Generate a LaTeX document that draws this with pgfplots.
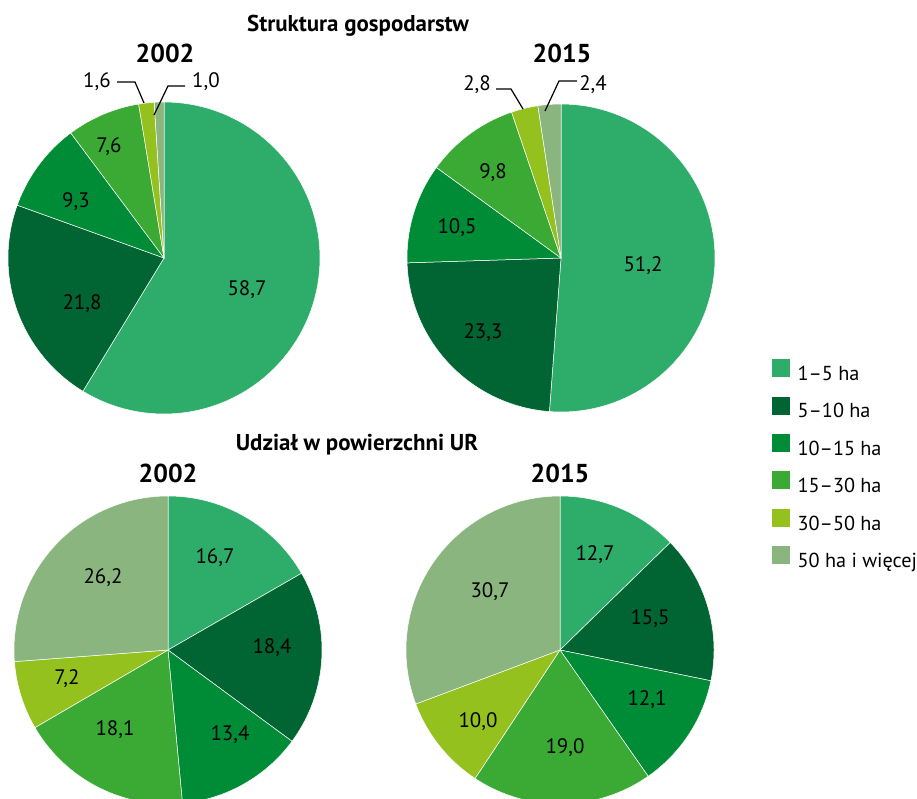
\documentclass[border=0pt]{standalone}
\usepackage{pgfplots}
\pgfplotsset{compat=1.18}
\usepackage{fontspec}
\setmainfont{PT Sans}
\definecolor{cA}{RGB}{46,173,106}
\definecolor{cB}{RGB}{0,101,50}
\definecolor{cC}{RGB}{0,140,55}
\definecolor{cD}{RGB}{59,170,53}
\definecolor{cE}{RGB}{149,193,31}
\definecolor{cF}{RGB}{138,181,126}
% pie: #1 cx, #2 cy, #3 radius, #4 list value/colour (clockwise from 12 o'clock)
\newcommand\pie[4]{%
  \xdef\cum{0}%
  \foreach \v/\c in {#4} {%
    \pgfmathsetmacro\a{3.6*\cum}%
    \pgfmathsetmacro\b{3.6*(\cum+\v)}%
    \edef\tmp{\noexpand\addplot[fill=\c, draw=white, line width=0.5bp, domain=\a:\b, samples=90, forget plot]
      ({#1+#3*sin(x)},{#2-#3*cos(x)}) -- (axis cs:#1,#2) -- cycle;}%
    \tmp
    \pgfmathsetmacro\n{\cum+\v}%
    \xdef\cum{\n}%
  }%
}
\newcommand\lab[3]{\node[font=\fontsize{21}{24}\selectfont, inner sep=0pt] at (axis cs:#1,#2) {#3};}
\begin{document}
\begin{tikzpicture}
\begin{axis}[
  scale only axis, width=917bp, height=799bp,
  xmin=0, xmax=917, ymin=0, ymax=799, y dir=reverse,
  axis lines=none, clip=true, clip bounding box=upper bound,
  legend style={at={(axis cs:772,359)}, anchor=north west, draw=none, fill=none,
    font=\fontsize{20.3}{24}\selectfont, row sep=12.2bp, column sep=8bp, inner sep=0pt,
    nodes={inner sep=0pt, text height=15bp, text depth=4bp}},
  legend cell align=left,
]
\addlegendimage{legend image code/.code={\fill[cA] (0bp,-1.5bp) rectangle (17bp,15.5bp);}}
\addlegendimage{legend image code/.code={\fill[cB] (0bp,-1.5bp) rectangle (17bp,15.5bp);}}
\addlegendimage{legend image code/.code={\fill[cC] (0bp,-1.5bp) rectangle (17bp,15.5bp);}}
\addlegendimage{legend image code/.code={\fill[cD] (0bp,-1.5bp) rectangle (17bp,15.5bp);}}
\addlegendimage{legend image code/.code={\fill[cE] (0bp,-1.5bp) rectangle (17bp,15.5bp);}}
\addlegendimage{legend image code/.code={\fill[cF] (0bp,-1.5bp) rectangle (17bp,15.5bp);}}
\legend{1–5 ha, 5–10 ha, 10–15 ha, 15–30 ha, 30–50 ha, 50 ha i więcej}

% Struktura gospodarstw
\pie{164}{258}{156}{58.7/cA, 21.8/cB, 9.3/cC, 7.6/cD, 1.6/cE, 1.0/cF}
\pie{561}{258}{154}{51.2/cA, 23.3/cB, 10.5/cC, 9.8/cD, 2.8/cE, 2.4/cF}
% Udzial w powierzchni UR
\pie{168}{650}{154}{16.7/cA, 18.4/cB, 13.4/cC, 18.1/cD, 7.2/cE, 26.2/cF}
\pie{560}{650}{154}{12.7/cA, 15.5/cB, 12.1/cC, 19.0/cD, 10.0/cE, 30.7/cF}

% leader lines
\addplot[black, line width=1.2bp, forget plot] coordinates {(117,82) (135,82) (144,103)};
\addplot[black, line width=1.2bp, forget plot] coordinates {(185,86) (168,86) (154,115)};
\addplot[black, line width=1.2bp, forget plot] coordinates {(496,89) (511,89) (523,109)};
\addplot[black, line width=1.2bp, forget plot] coordinates {(577,81) (559,81) (545,111)};

% titles
\node[font=\bfseries\fontsize{23}{26}\selectfont, anchor=base] at (axis cs:358,32) {Struktura gospodarstw};
\node[font=\bfseries\fontsize{26}{30}\selectfont, anchor=base] at (axis cs:165,63) {2002};
\node[font=\bfseries\fontsize{26}{30}\selectfont, anchor=base] at (axis cs:562,63) {2015};
\node[font=\bfseries\fontsize{23}{26}\selectfont, anchor=base] at (axis cs:357,450) {Udział w powierzchni UR};
\node[font=\bfseries\fontsize{26}{30}\selectfont, anchor=base] at (axis cs:168,482) {2002};
\node[font=\bfseries\fontsize{26}{30}\selectfont, anchor=base] at (axis cs:560,482) {2015};

% value labels
\lab{247}{290}{58,7}
\lab{82}{304}{21,8}
\lab{76}{202}{9,3}
\lab{109}{147}{7,6}
\lab{97}{82}{1,6}
\lab{206}{82}{1,0}

\lab{643}{266}{51,2}
\lab{483}{333}{23,3}
\lab{457}{228}{10,5}
\lab{493}{173}{9,8}
\lab{477}{85}{2,8}
\lab{593}{85}{2,4}

\lab{215}{558}{16,7}
\lab{272}{648}{18,4}
\lab{230}{735}{13,4}
\lab{115}{730}{18,1}
\lab{67}{679}{7,2}
\lab{103}{578}{26,2}

\lab{595}{555}{12,7}
\lab{650}{619}{15,5}
\lab{647}{700}{12,1}
\lab{565}{748}{19,0}
\lab{478}{722}{10,0}
\lab{490}{592}{30,7}
\end{axis}
\pgfresetboundingbox
\path (current axis.south west) rectangle (current axis.north east);
\end{tikzpicture}
\end{document}
